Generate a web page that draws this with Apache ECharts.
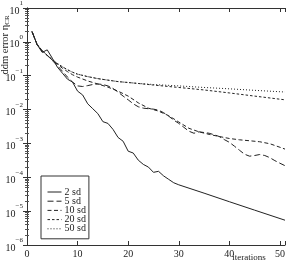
<!DOCTYPE html>
<html>
<head>
<meta charset="utf-8">
<script src="https://cdn.jsdelivr.net/npm/echarts@6/dist/echarts.min.js"></script>
<style>
html, body { margin: 0; padding: 0; background: #fff; }
#container { width: 288px; height: 262px; }
</style>
</head>
<body>
<div id="container"></div>
<script>
// iterations and ddm error values
var it2 = [1, 2, 3, 4, 5, 6, 7, 8, 9, 10, 11, 12, 13, 14, 15, 16, 17, 18, 19, 20, 21, 22, 23, 24, 25, 26, 27, 28, 29, 30, 35, 40, 45, 51];
var sd2 = [2.0, 0.83, 0.49, 0.58, 0.33, 0.18, 0.119, 0.079, 0.065, 0.035, 0.027, 0.0148, 0.0106, 0.0076, 0.0044, 0.0039, 0.0026, 0.0015, 0.00116, 5.9e-4, 5.2e-4, 3.2e-4, 2.4e-4, 2.0e-4, 1.4e-4, 1.5e-4, 1.1e-4, 8.7e-5, 6.9e-5, 6.0e-5, 3.4e-5, 1.9e-5, 1.07e-5, 5.4e-6];

var it5 = [1, 2, 3, 4, 5, 6, 7, 8, 9, 10, 11, 12, 13, 14, 15, 16, 17, 18, 19, 20, 21, 22, 23, 24, 25, 26, 27, 28, 29, 30, 31, 32, 33, 34, 35, 36, 37, 38, 39, 40, 41, 42, 43, 44, 45, 46, 47, 48, 49, 50, 51];
var sd5 = [2.0, 0.83, 0.52, 0.40, 0.28, 0.20, 0.136, 0.091, 0.065, 0.050, 0.048, 0.051, 0.055, 0.057, 0.055, 0.050, 0.042, 0.033, 0.025, 0.0194, 0.0148, 0.0121, 0.0110, 0.0106, 0.0103, 0.0096, 0.0081, 0.0064, 0.0049, 0.0039, 0.0030, 0.0023, 0.0020, 0.0022, 0.0021, 0.0020, 0.0018, 0.0016, 0.0013, 0.00108, 8.3e-4, 6.3e-4, 4.8e-4, 4.2e-4, 4.4e-4, 4.7e-4, 4.4e-4, 3.8e-4, 3.1e-4, 2.6e-4, 2.2e-4];

var it10 = [1, 2, 3, 4, 5, 6, 7, 8, 9, 10, 12, 14, 16, 18, 20, 22, 24, 26, 28, 30, 32, 34, 36, 38, 40, 42, 44, 46, 48, 50, 51];
var sd10 = [2.0, 0.83, 0.54, 0.40, 0.29, 0.22, 0.166, 0.132, 0.107, 0.091, 0.070, 0.057, 0.046, 0.035, 0.025, 0.0158, 0.0110, 0.0090, 0.0066, 0.0043, 0.0028, 0.0022, 0.00185, 0.0016, 0.0014, 0.00128, 0.00120, 0.00112, 9.8e-4, 7.7e-4, 6.8e-4];

var it20 = [1, 2, 3, 4, 5, 6, 7, 8, 9, 10, 12, 14, 16, 18, 20, 22, 25, 30, 35, 40, 45, 51];
var sd20 = [2.0, 0.83, 0.56, 0.40, 0.30, 0.23, 0.184, 0.150, 0.127, 0.111, 0.094, 0.082, 0.074, 0.067, 0.063, 0.059, 0.053, 0.045, 0.038, 0.031, 0.025, 0.0194];

var it50 = [1, 2, 3, 4, 5, 6, 7, 8, 9, 10, 12, 14, 16, 18, 20, 22, 25, 30, 35, 40, 45, 51];
var sd50 = [2.0, 0.83, 0.56, 0.40, 0.30, 0.23, 0.184, 0.150, 0.127, 0.111, 0.094, 0.082, 0.074, 0.067, 0.063, 0.059, 0.055, 0.050, 0.045, 0.041, 0.037, 0.033];

var names = ['2 sd', '5 sd', '10 sd', '20 sd', '50 sd'];
var xTicks = [0, 10, 20, 30, 40, 50];

function pairs(xs, ys) {
    return xs.map(function (x, i) { return [x, ys[i]]; });
}

var font = 'Liberation Serif';
var ink = '#222';

var dom = document.getElementById('container');
var myChart = echarts.init(dom, null, { renderer: 'canvas' });

function line(name, xs, ys, type) {
    return {
        name: name,
        type: 'line',
        data: pairs(xs, ys),
        showSymbol: false,
        symbol: 'none',
        lineStyle: { color: ink, width: 1, type: type },
        itemStyle: { color: ink },
        animation: false
    };
}

var axisCommon = {
    axisLine: { show: true, lineStyle: { color: '#333', width: 1 } },
    axisTick: { show: true, inside: true, length: 4, lineStyle: { color: '#333' } },
    splitLine: { show: false }
};

var logMinor = {
    minorTick: { show: true, splitNumber: 9, length: 2, lineStyle: { color: '#555' } },
    minorSplitLine: { show: false }
};

var option = {
    backgroundColor: '#fff',
    animation: false,
    grid: { left: 27, right: 3, top: 5, bottom: 17 },
    legend: {
        orient: 'vertical',
        left: 41,
        top: 176,
        data: names,
        itemWidth: 14,
        itemHeight: 7,
        itemGap: -0.8,
        padding: [11, 3, 5, 6],
        borderColor: '#333',
        borderWidth: 1,
        itemStyle: { opacity: 0 },
        lineStyle: { width: 1 },
        textStyle: { fontFamily: font, fontSize: 10, lineHeight: 8, color: ink, padding: [0, 0, 0, -2] }
    },
    xAxis: [
        Object.assign({
            type: 'value', min: 0, max: 51, interval: 10, position: 'bottom',
            axisLabel: {
                fontFamily: font, fontSize: 10, color: ink, margin: 4,
                formatter: function (v) { return xTicks.indexOf(v) >= 0 ? String(v) : ''; }
            }
        }, axisCommon),
        Object.assign({
            type: 'value', min: 0, max: 51, interval: 10, position: 'top',
            axisLabel: { show: false }
        }, axisCommon)
    ],
    yAxis: [
        Object.assign({
            type: 'log', logBase: 10, min: 1e-6, max: 10, position: 'left',
            axisLabel: {
                margin: 4,
                formatter: function (v) {
                    var e = Math.round(Math.log10(v));
                    return '{b|10}{e|' + (e < 0 ? '\u2212' + (-e) : e) + '}';
                },
                rich: {
                    b: { fontFamily: font, fontSize: 10, color: ink, verticalAlign: 'bottom', lineHeight: 16 },
                    e: { fontFamily: font, fontSize: 7, color: ink, verticalAlign: 'top', lineHeight: 16 }
                }
            }
        }, axisCommon, logMinor),
        Object.assign({
            type: 'log', logBase: 10, min: 1e-6, max: 10, position: 'right',
            axisLabel: { show: false }
        }, axisCommon, logMinor)
    ],
    graphic: [
        {
            type: 'text',
            x: 5, y: 45,
            rotation: Math.PI / 2,
            style: {
                text: '{a|ddm error \u03b7}{s|CR}',
                align: 'center',
                verticalAlign: 'middle',
                rich: {
                    a: { fontFamily: font, fontSize: 10.5, fill: ink },
                    s: { fontFamily: font, fontSize: 7, fill: ink, verticalAlign: 'bottom', padding: [4, 0, 0, 0] }
                }
            }
        },
        {
            type: 'text',
            x: 249, y: 258,
            style: {
                text: 'iterations',
                fontFamily: font, fontSize: 9, fill: ink,
                align: 'center', verticalAlign: 'middle'
            }
        }
    ],
    series: [
        line(names[0], it2, sd2, 'solid'),
        line(names[1], it5, sd5, [6, 3]),
        line(names[2], it10, sd10, [4, 2.5]),
        line(names[3], it20, sd20, [2.5, 2]),
        line(names[4], it50, sd50, [1, 2])
    ]
};

myChart.setOption(option);
window.addEventListener('resize', myChart.resize);
</script>
</body>
</html>
